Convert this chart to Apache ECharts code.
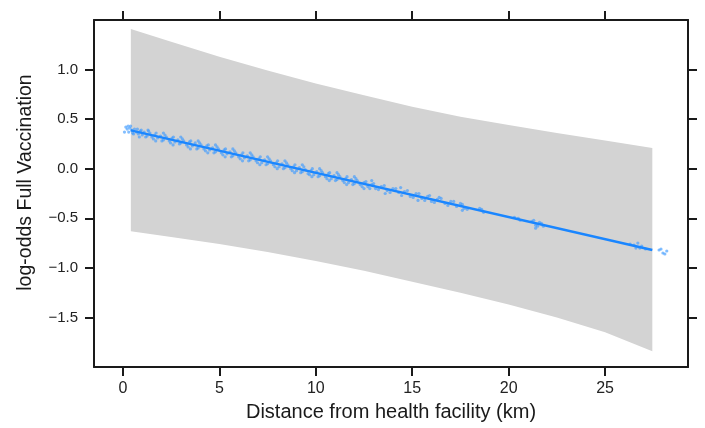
<!DOCTYPE html>
<html>
<head>
<meta charset="utf-8">
<script src="https://cdn.jsdelivr.net/npm/echarts@6/dist/echarts.min.js"></script>
<style>
html,body{margin:0;padding:0;background:#fff;}
#chart{width:705px;height:428px;}
</style>
</head>
<body>
<div id="chart"></div>
<script>
// ---- data ----
var xTicks = [0, 5, 10, 15, 20, 25];
var yTicks = [-1.5, -1.0, -0.5, 0.0, 0.5, 1.0];

// fitted line (start / end)
var fitX = [0.41, 27.45];
var fitY = [0.386, -0.820];

// confidence band
var bandX     = [0.41, 2.5, 5, 7.5, 10, 12.5, 15, 17.5, 20, 22.5, 25, 27.45];
var bandUpper = [1.41, 1.28, 1.13, 0.99, 0.86, 0.74, 0.625, 0.525, 0.44, 0.36, 0.285, 0.21];
var bandLower = [-0.63, -0.69, -0.76, -0.84, -0.93, -1.03, -1.14, -1.25, -1.37, -1.50, -1.65, -1.84];

// partial residual points
var residX = [0.15,0.22,0.3,0.35,0.45,0.5,0.6,0.7,0.8,0.9,1.0,1.1,1.25,1.4,1.5,1.65,1.8,1.95,2.1,2.25,2.4,2.55,2.7,2.85,3.0,3.15,3.3,3.45,3.6,3.75,3.9,4.05,4.2,4.35,4.5,4.65,4.8,4.95,5.1,5.25,5.4,5.55,5.7,5.85,6.0,6.15,6.3,6.45,6.6,6.75,6.9,7.05,7.2,7.35,7.5,7.65,7.8,7.95,8.1,8.25,8.4,8.55,8.7,8.85,9.0,9.15,9.3,9.45,9.6,9.75,9.9,10.05,10.2,10.35,10.5,10.65,10.8,10.95,11.1,11.25,11.4,11.55,11.7,11.85,12.0,12.15,12.3,12.5,12.7,12.9,13.1,13.4,13.7,14.0,14.3,14.6,14.9,15.2,15.5,15.8,16.0,16.3,16.7,17.0,17.3,17.5,17.7,18.5,18.7,20.3,20.6,21.2,21.4,21.6,21.8,26.3,26.6,26.9,27.1,27.8,28.0,28.2,
  0.08,0.27,0.55,0.75,0.95,1.18,1.33,1.58,1.72,2.02,2.18,2.47,2.62,2.93,3.08,3.38,3.52,3.83,3.98,4.28,4.43,4.72,4.88,5.18,5.32,5.62,5.78,6.08,6.22,6.52,6.68,6.98,7.12,7.42,7.58,7.88,8.02,8.32,8.48,8.78,8.92,9.22,9.38,9.68,9.82,10.12,10.28,10.58,10.72,11.02,11.18,11.48,11.62,11.92,12.08,12.4,12.6,12.8,13.0,13.25,13.55,13.85,14.15,14.45,14.75,15.05,15.35,15.65,15.9,16.15,16.5,16.85,17.15,17.6,17.85,18.6,20.5,21.3,21.5,21.7,26.5,26.8,27.9,28.1,
  0.4,0.85,1.3,1.7,2.1,2.6,3.0,3.5,3.9,4.4,4.8,5.3,5.7,6.2,6.6,7.1,7.5,8.0,8.4,8.9,9.3,9.8,10.2,10.7,11.1,11.6,12.0,12.5,12.9,13.6,14.4,15.3,16.4,17.6,21.4,26.7];
var residY = [0.42,0.40,0.37,0.41,0.39,0.36,0.40,0.37,0.35,0.38,0.34,0.37,0.33,0.36,0.32,0.34,0.31,0.33,0.29,0.32,0.28,0.31,0.27,0.29,0.26,0.28,0.24,0.27,0.23,0.26,0.21,0.24,0.20,0.23,0.19,0.21,0.17,0.20,0.16,0.19,0.15,0.17,0.13,0.16,0.12,0.14,0.11,0.13,0.09,0.12,0.08,0.10,0.06,0.09,0.05,0.08,0.04,0.06,0.02,0.05,0.01,0.04,0.00,0.02,-0.02,0.01,-0.03,-0.01,-0.05,-0.02,-0.06,-0.03,-0.07,-0.04,-0.08,-0.05,-0.10,-0.07,-0.11,-0.08,-0.12,-0.10,-0.14,-0.11,-0.15,-0.12,-0.16,-0.14,-0.18,-0.16,-0.20,-0.18,-0.22,-0.20,-0.24,-0.23,-0.28,-0.25,-0.30,-0.28,-0.33,-0.31,-0.35,-0.33,-0.38,-0.35,-0.40,-0.40,-0.44,-0.49,-0.52,-0.53,-0.57,-0.54,-0.58,-0.76,-0.80,-0.78,-0.81,-0.82,-0.85,-0.83,
  0.37,0.43,0.35,0.40,0.39,0.32,0.38,0.30,0.36,0.28,0.34,0.26,0.32,0.25,0.30,0.22,0.28,0.20,0.26,0.18,0.24,0.16,0.22,0.14,0.20,0.12,0.18,0.10,0.16,0.08,0.14,0.06,0.12,0.04,0.10,0.02,0.08,0.00,0.06,-0.02,0.04,-0.04,0.02,-0.06,0.00,-0.08,-0.02,-0.10,-0.04,-0.12,-0.06,-0.14,-0.08,-0.16,-0.10,-0.18,-0.13,-0.20,-0.15,-0.21,-0.17,-0.24,-0.20,-0.27,-0.22,-0.29,-0.25,-0.32,-0.27,-0.34,-0.30,-0.37,-0.33,-0.36,-0.41,-0.41,-0.50,-0.52,-0.58,-0.55,-0.77,-0.80,-0.81,-0.86,
  0.43,0.32,0.39,0.28,0.36,0.24,0.32,0.20,0.28,0.16,0.24,0.12,0.20,0.08,0.16,0.04,0.12,0.00,0.08,-0.04,0.04,-0.08,0.00,-0.12,-0.04,-0.16,-0.08,-0.20,-0.12,-0.25,-0.19,-0.32,-0.29,-0.42,-0.60,-0.75];

// ---- build chart ----
var fitData = fitX.map(function(x,i){return [x, fitY[i]];});
var residData = residX.map(function(x,i){return [x, residY[i]];});
var bandData = bandX.map(function(x,i){return [x, bandLower[i], bandUpper[i]];});

var FONT = '"Liberation Sans", Arial, sans-serif';
var AX = '#1a1a1a';
function fmt(v){ return (Math.round(v*10)/10).toFixed(1).replace('-', '\u2212'); }

var chart = echarts.init(document.getElementById('chart'), null, {renderer:'canvas'});
var xCommon = {
  type:'value', min:-1.5, max:29.3,
  splitLine:{show:false},
  axisLine:{show:true, onZero:false, lineStyle:{color:AX, width:2}},
  axisTick:{show:true, inside:false, length:9, lineStyle:{color:AX, width:2}, customValues:xTicks}
};
var yCommon = {
  type:'value', min:-2.0, max:1.5,
  splitLine:{show:false},
  axisLine:{show:true, onZero:false, lineStyle:{color:AX, width:2}},
  axisTick:{show:true, inside:false, length:9, lineStyle:{color:AX, width:2}, customValues:yTicks}
};
var option = {
  animation:false,
  backgroundColor:'#ffffff',
  grid:{left:94, right:17, top:20, bottom:61, containLabel:false},
  xAxis:[
    Object.assign({}, xCommon, {
      position:'bottom',
      name:'Distance from health facility (km)', nameLocation:'middle', nameGap:35,
      nameTextStyle:{fontFamily:FONT, fontSize:20, color:'#1a1a1a'},
      axisLabel:{show:true, margin:14, fontFamily:FONT, fontSize:16, color:'#222', customValues:xTicks,
        formatter:function(v){return String(v);}}
    }),
    Object.assign({}, xCommon, {position:'top', axisLabel:{show:false}})
  ],
  yAxis:[
    Object.assign({}, yCommon, {
      position:'left',
      name:'log-odds Full Vaccination', nameLocation:'middle', nameGap:58,
      nameTextStyle:{fontFamily:FONT, fontSize:19.5, color:'#1a1a1a', padding:[0,0,0,22]},
      axisLabel:{show:true, margin:16, fontFamily:FONT, fontSize:15, color:'#222', customValues:yTicks,
        formatter:fmt}
    }),
    Object.assign({}, yCommon, {position:'right', axisLabel:{show:false}})
  ],
  series:[
    {
      type:'custom', xAxisIndex:0, yAxisIndex:0, silent:true, z:1,
      data:bandData,
      renderItem:function(params, api){
        if (params.dataIndex !== 0) return null;
        var upper = [], lower = [];
        for (var i=0;i<bandData.length;i++){
          upper.push(api.coord([bandData[i][0], bandData[i][2]]));
          lower.push(api.coord([bandData[i][0], bandData[i][1]]));
        }
        var pts = upper.concat(lower.reverse());
        return {type:'polygon', shape:{points:pts}, style:{fill:'#d3d3d3', stroke:null}};
      },
      encode:{x:0, y:[1,2]}
    },
    {
      type:'scatter', xAxisIndex:0, yAxisIndex:0, silent:true, z:2,
      data:residData, symbol:'circle', symbolSize:3.2,
      itemStyle:{color:'#3f9bff', opacity:0.65}
    },
    {
      type:'line', xAxisIndex:0, yAxisIndex:0, silent:true, z:3,
      data:fitData, symbol:'none',
      lineStyle:{color:'#1a86ff', width:2.4}
    }
  ]
};
chart.setOption(option);
</script>
</body>
</html>
